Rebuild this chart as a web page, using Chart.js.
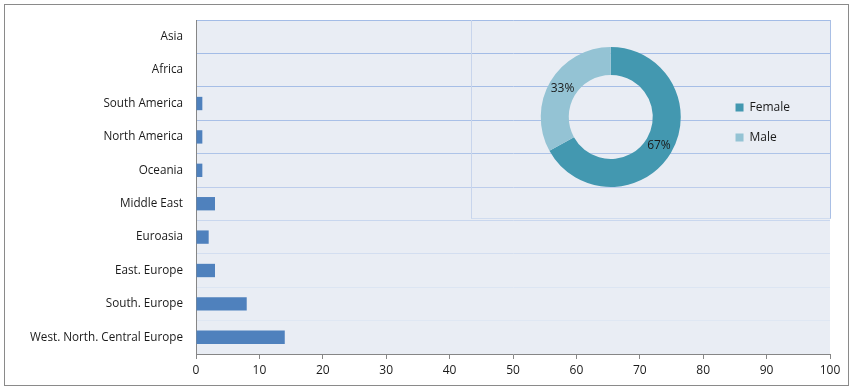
<!DOCTYPE html>
<html>
<head>
<meta charset="utf-8">
<script src="https://cdn.jsdelivr.net/npm/chart.js@4.4.0/dist/chart.umd.min.js"></script>
<style>
    html, body { margin: 0; padding: 0; background: #fff; }
    #wrap { position: relative; width: 854px; height: 390px; }
    #frame {
        position: absolute; left: 4px; top: 4px; width: 843px; height: 380px;
        border: 1px solid #8a8a8a; pointer-events: none;
    }
    #inset {
        position: absolute; left: 471px; top: 20px; width: 358px; height: 198px;
        border-left: 1px solid #c8d5ec; border-right: 1px solid #a9bfe5;
        border-bottom: 1px solid #d0dcef;
    }
</style>
</head>
<body>
<div id="wrap">
    <canvas id="regionChart" width="854" height="390"></canvas>
    <div id="inset"><canvas id="genderChart" width="358" height="198"></canvas></div>
    <div id="frame"></div>
</div>
<script>
// regions, listed top to bottom
const regions = ['Asia', 'Africa', 'South America', 'North America', 'Oceania',
    'Middle East', 'Euroasia', 'East. Europe', 'South. Europe', 'West. North. Central Europe'];
const regionCounts = [0, 0, 1, 1, 1, 3, 2, 3, 8, 14];

const xTicks = [0, 10, 20, 30, 40, 50, 60, 70, 80, 90, 100];

const genders = ['Female', 'Male'];
const genderShares = [67, 33];

document.addEventListener('DOMContentLoaded', function() {
    const family = "'Open Sans', 'Noto Sans', sans-serif";
    const font = { family: family, size: 12 };

    // light blue-grey plot area
    const plotBackground = {
        id: 'plotBackground',
        beforeDraw(chart) {
            const { ctx, chartArea } = chart;
            ctx.save();
            ctx.fillStyle = '#e9edf4';
            ctx.fillRect(chartArea.left, chartArea.top, chartArea.right - chartArea.left, chartArea.bottom - chartArea.top);
            ctx.restore();
        }
    };

    // gridlines fade out towards the bottom
    const gridColors = ['#a3bce6', '#a3bce6', '#a6bee6', '#a9c0e7', '#aec4e8', '#bdcdeb',
        '#c9d7ee', '#d3def0', '#dce5f2', '#dfe7f3', '#dfe7f3'];

    new Chart(document.getElementById('regionChart').getContext('2d'), {
        type: 'bar',
        data: {
            labels: regions,
            datasets: [{
                data: regionCounts,
                backgroundColor: '#4f81bd',
                barPercentage: 0.4,
                categoryPercentage: 1
            }]
        },
        options: {
            indexAxis: 'y',
            responsive: false,
            animation: false,
            layout: { padding: { top: 20, right: 24, left: 0, bottom: 0 } },
            plugins: { legend: { display: false }, tooltip: { enabled: false } },
            scales: {
                x: {
                    min: 0,
                    max: 100,
                    afterFit: (scale) => { scale.height = 36; },
                    afterBuildTicks: (scale) => { scale.ticks = xTicks.map(v => ({ value: v })); },
                    border: { color: '#868686' },
                    grid: { drawOnChartArea: false, drawTicks: true, tickLength: 5, color: '#868686' },
                    ticks: { font: font, color: '#1a1a1a', padding: 4 }
                },
                y: {
                    afterFit: (scale) => { scale.width = 196; },
                    border: { color: '#868686' },
                    grid: {
                        offset: true,
                        drawTicks: false,
                        color: (ctx) => gridColors[ctx.index] || '#dfe7f3'
                    },
                    ticks: { font: { family: family, size: 11.7 }, color: '#1a1a1a', padding: 13 }
                }
            }
        },
        plugins: [plotBackground]
    });

    // percentage labels in the middle of each ring segment
    const ringLabels = {
        id: 'ringLabels',
        afterDatasetsDraw(chart) {
            const { ctx } = chart;
            const meta = chart.getDatasetMeta(0);
            ctx.save();
            ctx.font = `12px ${family}`;
            ctx.fillStyle = '#1a1a1a';
            ctx.textAlign = 'center';
            ctx.textBaseline = 'middle';
            meta.data.forEach((arc, i) => {
                const pos = arc.tooltipPosition();
                ctx.fillText(genderShares[i] + '%', pos.x, pos.y);
            });
            ctx.restore();
        }
    };

    new Chart(document.getElementById('genderChart').getContext('2d'), {
        type: 'doughnut',
        data: {
            labels: genders,
            datasets: [{
                data: genderShares,
                backgroundColor: ['#4398b0', '#94c3d4'],
                borderWidth: 0
            }]
        },
        options: {
            responsive: false,
            animation: false,
            cutout: '60%',
            layout: { padding: { top: 27, bottom: 31, left: 32, right: 30 } },
            plugins: {
                tooltip: { enabled: false },
                legend: {
                    position: 'right',
                    // empty title only nudges the entries down a little
                    title: { display: true, text: '', font: { size: 1 }, padding: { top: 10, bottom: 0 } },
                    labels: {
                        font: font,
                        color: '#1a1a1a',
                        boxWidth: 8,
                        boxHeight: 8,
                        padding: 18
                    }
                }
            }
        },
        plugins: [ringLabels]
    });
});
</script>
</body>
</html>
